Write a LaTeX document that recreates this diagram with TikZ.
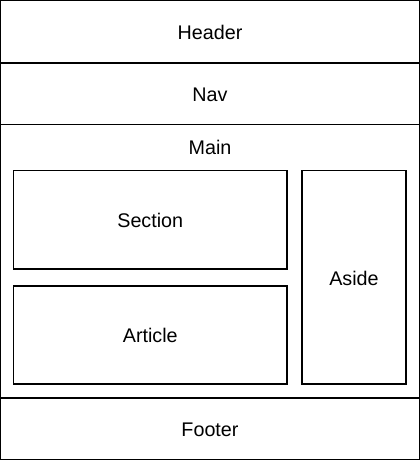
\documentclass[tikz,border=0pt]{standalone}
\usepackage{fontspec}
\setmainfont{Liberation Sans}
\usetikzlibrary{fit}
\begin{document}
\begin{tikzpicture}[x=0.75pt,y=-0.75pt,
  box/.style={draw=black,line width=0.9pt,inner sep=0pt,outer sep=0pt,fill=white},
  lbl/.style={font=\fontsize{14.8}{17}\selectfont,inner sep=0pt,yshift=-0.6pt}]
\useasboundingbox (0,0) rectangle (420,460);
\fill[white] (0,0) rectangle (420,460);
% outer stripes
\node[box,fit={(0.6,0.6) (419.4,63)}] (header) {};
\node[lbl] (headerlbl) at (header.center) {Header};
\node[box,fit={(0.6,63) (419.4,124.5)}] (nav) {};
\node[lbl] (navlbl) at (nav.center) {Nav};
\node[box,fit={(0.6,124.5) (419.4,398)}] (main) {};
\node[lbl] (mainlbl) at (210,147) {Main};
\node[box,fit={(0.6,398) (419.4,459.4)}] (footer) {};
\node[lbl] (footerlbl) at (footer.center) {Footer};
% inner boxes
\node[box,fit={(13.5,170.5) (287,269)}] (section) {};
\node[lbl] (sectionlbl) at (section.center) {Section};
\node[box,fit={(13.5,286) (287,384)}] (article) {};
\node[lbl] (articlelbl) at (article.center) {Article};
\node[box,fit={(302,170.5) (406,384)}] (aside) {};
\node[lbl] (asidelbl) at (aside.center) {Aside};
\end{tikzpicture}
\end{document}
